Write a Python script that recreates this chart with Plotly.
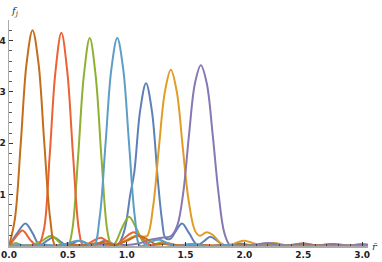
import plotly.graph_objects as go

# ---- data (r̄, f_j) ----
blue_x = [0, 0.07, 0.14, 0.2, 0.26, 0.32, 0.38, 0.44, 0.49, 0.6, 0.71, 0.82, 0.92, 0.98, 1.03, 1.064, 1.114, 1.164, 1.214, 1.264, 1.30, 1.33, 1.37, 1.42, 1.47, 1.53, 1.6, 1.66, 1.71, 1.77, 1.83, 1.95, 2.08, 2.2, 2.33, 2.46, 2.6, 2.72, 2.85, 3.0, 3.05]
blue_y = [0, 0.25, 0.44, 0.25, 0.02, 0.1, 0.17, 0.08, 0.01, 0.1, 0.01, 0.1, 0.02, 0.3, 1.0, 1.43, 2.63, 3.17, 2.63, 1.3, 0.5, 0.15, 0.14, 0.3, 0.44, 0.25, 0.02, 0.1, 0.18, 0.1, 0.01, 0.05, 0.01, 0.04, 0.01, 0.03, 0.01, 0.03, 0.01, 0.03, 0.02]

orange_x = [0, 0.2, 0.35, 0.5, 0.62, 0.75, 0.88, 1.0, 1.08, 1.14, 1.175, 1.225, 1.275, 1.325, 1.375, 1.425, 1.475, 1.525, 1.58, 1.62, 1.68, 1.73, 1.8, 1.87, 1.95, 2.0, 2.07, 2.14, 2.25, 2.37, 2.5, 2.62, 2.75, 2.88, 3.0, 3.05]
orange_y = [0, 0.02, 0.0, 0.03, 0.0, 0.05, 0.0, 0.12, 0.2, 0.18, 0.2, 0.78, 1.95, 3.01, 3.43, 3.01, 1.95, 0.9, 0.3, 0.2, 0.27, 0.22, 0.05, 0.01, 0.08, 0.1, 0.06, 0.01, 0.06, 0.01, 0.05, 0.01, 0.04, 0.01, 0.04, 0.03]

green_x = [0, 0.06, 0.12, 0.2, 0.28, 0.36, 0.44, 0.5, 0.536, 0.586, 0.636, 0.686, 0.736, 0.786, 0.836, 0.87, 0.9, 0.96, 1.02, 1.08, 1.15, 1.2, 1.3, 1.42, 1.55, 1.68, 1.8, 1.95, 2.1, 2.3, 2.5, 2.7, 3.05]
green_y = [0, 0.06, 0.0, 0.02, 0.1, 0.2, 0.05, 0.01, 0.29, 1.7, 3.32, 4.05, 3.32, 1.7, 0.29, 0.02, 0.05, 0.35, 0.57, 0.35, 0.05, 0.0, 0.08, 0.01, 0.04, 0.0, 0.02, 0.0, 0.02, 0.0, 0.01, 0.0, 0.0]

red_x = [0, 0.05, 0.115, 0.18, 0.245, 0.295, 0.345, 0.395, 0.445, 0.495, 0.545, 0.595, 0.63, 0.7, 0.78, 0.85, 0.9, 0.98, 1.06, 1.13, 1.2, 1.3, 1.4, 1.55, 1.7, 1.85, 2.0, 2.2, 2.5, 3.05]
red_y = [0, 0.15, 0.3, 0.12, 0.0, 0.3, 1.74, 3.4, 4.15, 3.4, 1.74, 0.3, 0.01, 0.08, 0.16, 0.06, 0.0, 0.15, 0.27, 0.15, 0.02, 0.05, 0.01, 0.03, 0.01, 0.02, 0.0, 0.01, 0.0, 0.0]

purple_x = [0, 0.3, 0.6, 0.9, 1.0, 1.1, 1.2, 1.3, 1.38, 1.43, 1.48, 1.53, 1.58, 1.63, 1.68, 1.73, 1.78, 1.83, 1.88, 1.95, 2.05, 2.2, 2.35, 2.5, 2.62, 2.75, 2.88, 3.0, 3.05]
purple_y = [0, 0.01, 0.02, 0.03, 0.02, 0.05, 0.12, 0.16, 0.2, 0.4, 1.03, 2.18, 3.17, 3.52, 3.17, 2.18, 1.03, 0.25, 0.01, 0.03, 0.01, 0.06, 0.01, 0.05, 0.01, 0.04, 0.01, 0.03, 0.02]

brown_x = [0, 0.05, 0.1, 0.15, 0.2, 0.25, 0.3, 0.35, 0.395, 0.45, 0.52, 0.6, 0.7, 0.8, 0.9, 1.0, 1.1, 1.18, 1.25, 1.35, 1.45, 1.6, 1.75, 1.9, 2.1, 2.4, 3.05]
brown_y = [0, 0.53, 2.0, 3.57, 4.2, 3.57, 2.0, 0.53, 0.0, 0.03, 0.05, 0.01, 0.04, 0.06, 0.02, 0.1, 0.2, 0.12, 0.03, 0.05, 0.01, 0.03, 0.0, 0.02, 0.0, 0.01, 0.0]

lightblue_x = [0, 0.1, 0.2, 0.3, 0.4, 0.5, 0.58, 0.65, 0.72, 0.77, 0.82, 0.87, 0.92, 0.97, 1.02, 1.07, 1.115, 1.2, 1.28, 1.35, 1.42, 1.55, 1.7, 1.85, 2.0, 2.3, 2.6, 3.05]
lightblue_y = [0, 0.02, 0.0, 0.03, 0.0, 0.05, 0.1, 0.06, 0.0, 0.55, 1.99, 3.45, 4.05, 3.45, 1.99, 0.55, 0.0, 0.08, 0.12, 0.05, 0.0, 0.03, 0.0, 0.02, 0.0, 0.01, 0.0, 0.0]

series = [
    (blue_x, blue_y, "#5E81B5"),
    (orange_x, orange_y, "#E19C24"),
    (green_x, green_y, "#8FB032"),
    (red_x, red_y, "#EB6235"),
    (purple_x, purple_y, "#8778B3"),
    (brown_x, brown_y, "#C56E1A"),
    (lightblue_x, lightblue_y, "#5D9EC7"),
]

x_ticks = [0.0, 0.5, 1.0, 1.5, 2.0, 2.5, 3.0]
x_ticktext = ["0.0", "0.5", "1.0", "1.5", "2.0", "2.5", "3.0"]
y_ticks = [1, 2, 3, 4]
y_ticktext = ["1", "2", "3", "4"]

fig = go.Figure()
for xs, ys, c in series:
    fig.add_trace(go.Scatter(x=xs, y=ys, mode="lines",
                             line=dict(color=c, width=2, shape="spline", smoothing=1.0),
                             showlegend=False, hoverinfo="skip"))

tickfont = dict(family="DejaVu Sans", size=9, color="#222", weight="bold")
fig.update_layout(
    width=382, height=262,
    margin=dict(l=9, r=14, t=20, b=16, autoexpand=False),
    paper_bgcolor="white", plot_bgcolor="white",
    xaxis=dict(range=[0, 3.05], showgrid=False, zeroline=False, automargin=False,
               showline=True, linecolor="#aaaaaa", linewidth=1.5,
               tickvals=x_ticks, ticktext=x_ticktext, ticks="inside",
               ticklen=4, tickwidth=1, tickcolor="#333",
               minor=dict(dtick=0.1, tick0=0, ticks="inside", ticklen=2.5, tickwidth=0.8, tickcolor="#333"),
               tickfont=tickfont),
    yaxis=dict(range=[0, 4.4], showgrid=False, zeroline=False, automargin=False,
               showline=True, linecolor="#aaaaaa", linewidth=1.5,
               tickvals=y_ticks, ticktext=y_ticktext, ticks="inside",
               ticklen=4, tickwidth=1, tickcolor="#333",
               minor=dict(dtick=0.2, tick0=0, ticks="inside", ticklen=2.5, tickwidth=0.8, tickcolor="#333"),
               tickfont=tickfont, ticklabelstandoff=0),
    annotations=[
        dict(text="<i>f</i><sub><i>j</i></sub>", xref="paper", yref="paper",
             x=0.0, y=1.0, xanchor="left", yanchor="bottom", showarrow=False,
             font=dict(family="DejaVu Serif", size=10, color="#333")),
        dict(text="<i>r\u0304</i>", xref="paper", yref="paper",
             x=1.005, y=0.0, xanchor="left", yanchor="middle", showarrow=False,
             font=dict(family="DejaVu Serif", size=10, color="#333")),
    ],
)

fig.write_html("out.html", config={"displayModeBar": False, "staticPlot": True},
               post_script="document.body.style.margin='0';document.body.style.overflow='hidden';")
